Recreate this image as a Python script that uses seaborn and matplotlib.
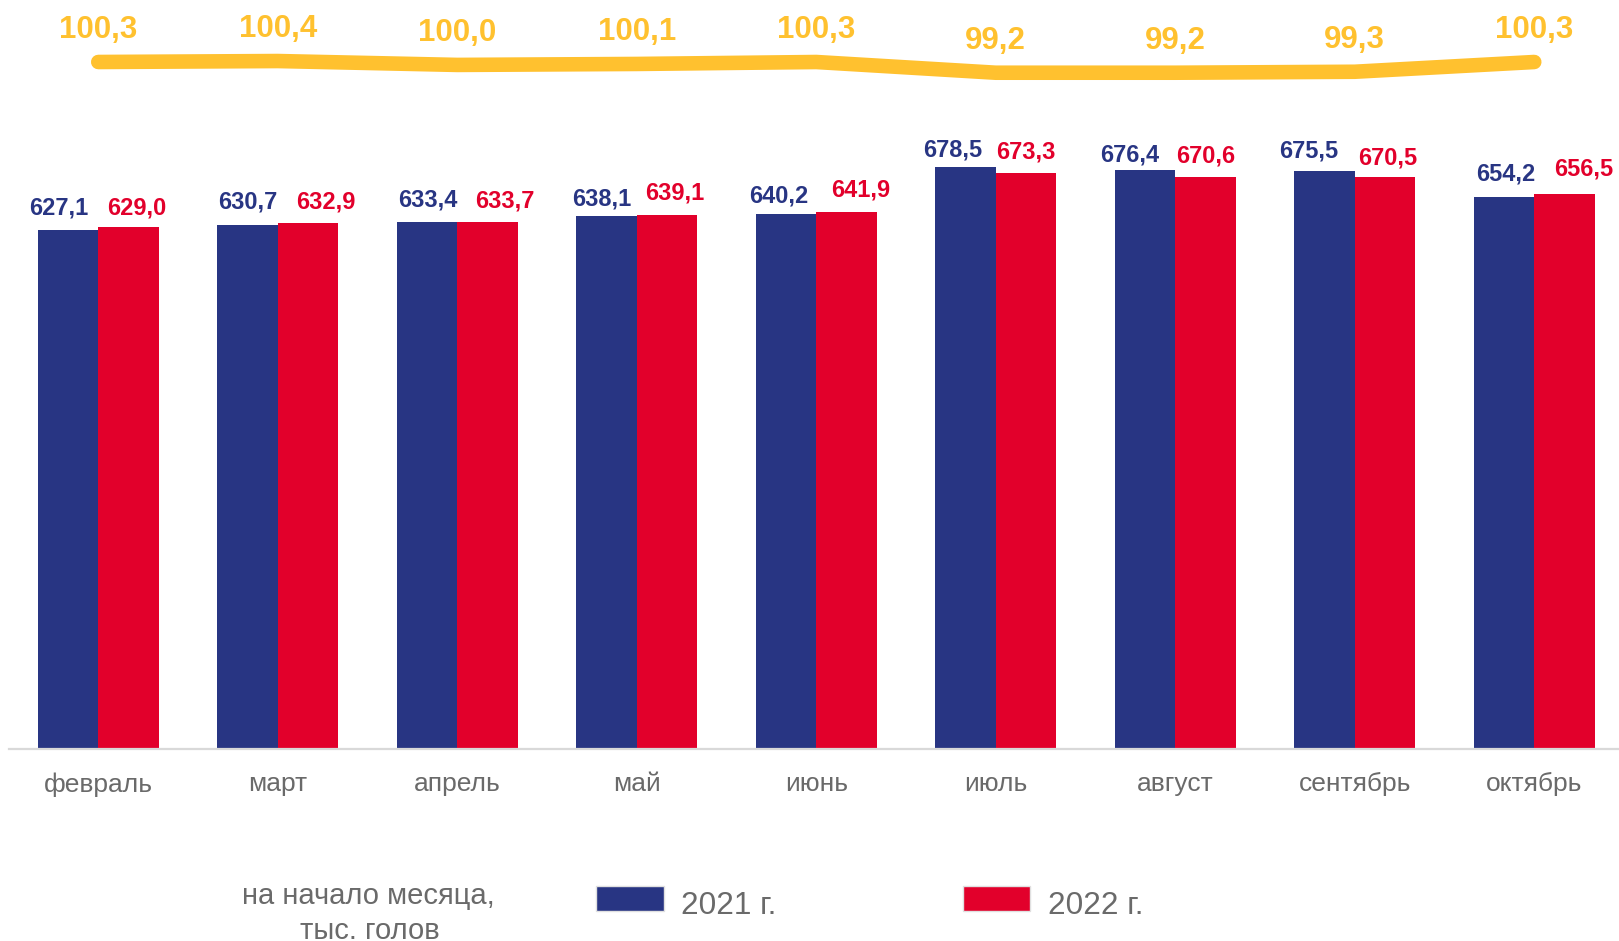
import matplotlib
matplotlib.use("Agg")
import matplotlib.pyplot as plt
from matplotlib.patches import Rectangle
from matplotlib.legend_handler import HandlerPatch
import seaborn as sns
import pandas as pd

months = ["февраль", "март", "апрель", "май", "июнь", "июль", "август", "сентябрь", "октябрь"]
values_2021 = [627.1, 630.7, 633.4, 638.1, 640.2, 678.5, 676.4, 675.5, 654.2]
values_2022 = [629.0, 632.9, 633.7, 639.1, 641.9, 673.3, 670.6, 670.5, 656.5]
index_pct = [100.3, 100.4, 100.0, 100.1, 100.3, 99.2, 99.2, 99.3, 100.3]
series_names = ["2021 г.", "2022 г."]
note_lines = ["на начало месяца,", "тыс. голов"]

# label nudges (pixels) as placed in the original chart
label_dx = [[-9, 0.6, 1, -5, -7.5, -13, -15, -16, 1.4],
            [8.3, 17.7, 17, 8, 14.6, 0, 0, 3, 19.5]]
label_dy = [[23.3, 25, 24.4, 19.6, 20, 19, 16.7, 22, 24.6],
            [21.7, 23, 23, 23.6, 23.4, 23.3, 22.7, 21.3, 26.7]]

BLUE = "#283583"
RED = "#E2002B"
YELLOW = "#FFC12F"
GRAY = "#6a6a6a"
AXIS = "#d9d9d9"

sns.set_theme(style="white")
plt.rcParams["font.family"] = ["Liberation Sans", "DejaVu Sans"]

df = pd.DataFrame({
    "month": months * 2,
    "value": values_2021 + values_2022,
    "year": [series_names[0]] * len(months) + [series_names[1]] * len(months),
})

W, H = 1619, 941
PT = 0.72  # points per pixel at dpi 100
fig = plt.figure(figsize=(W / 100, H / 100), dpi=100)

ax_left = 8.5
ax_width = 9 * 179.5
ax_bottom = H - 749
ax_top_px = 100
ax = fig.add_axes([ax_left / W, ax_bottom / H, ax_width / W, (749 - ax_top_px) / H])

sns.barplot(data=df, x="month", y="value", hue="year", palette=[BLUE, RED],
            width=0.674, gap=0, saturation=1, linewidth=0, ax=ax, legend=True)
ax.set_ylim(200, 200 + (749 - ax_top_px) / 1.216)
ax.set_xlim(-0.5, 8.5)
ax.set_xlabel("")
ax.set_ylabel("")
ax.set_yticks([])
for s in ["top", "left", "right"]:
    ax.spines[s].set_visible(False)
ax.spines["bottom"].set_color(AXIS)
ax.spines["bottom"].set_linewidth(1.6)
ax.tick_params(axis="x", length=0, pad=16.8, labelsize=19, labelcolor=GRAY)

# bar value labels
LBL_FS = 17
cap_half = 0.716 * LBL_FS / PT / 2
for k, (cont, color) in enumerate(zip(ax.containers, [BLUE, RED])):
    for i, bar in enumerate(cont):
        v = bar.get_height()
        ax.annotate(f"{v:.1f}".replace(".", ","),
                    (bar.get_x() + bar.get_width() / 2, v),
                    xytext=(label_dx[k][i] * PT, (label_dy[k][i] - cap_half) * PT),
                    textcoords="offset points",
                    ha="center", va="baseline", fontsize=LBL_FS, fontweight="bold",
                    color=color)

# legend
def raised_patch(legend, orig_handle, xdescent, ydescent, width, height, fontsize):
    return Rectangle((-xdescent, -ydescent + 3.2), width, height)

handles, labels = ax.get_legend_handles_labels()
ax.get_legend().remove()
leg = fig.legend(handles, labels, loc="center left",
                 bbox_to_anchor=(596 / W, 1 - 905.5 / H), ncol=2, frameon=False,
                 fontsize=22.7, handlelength=2.15, handleheight=0.87,
                 handletextpad=0.55, columnspacing=5.9, borderpad=0, borderaxespad=0,
                 handler_map={h: HandlerPatch(patch_func=raised_patch) for h in handles})
for t in leg.get_texts():
    t.set_color(GRAY)
for h in leg.legend_handles:
    h.set_edgecolor("#e0e0e0")
    h.set_linewidth(1)

fig.text(368 / W, 1 - 896 / H, note_lines[0], ha="center", va="center",
         fontsize=21, color=GRAY)
fig.text(370 / W, 1 - 931 / H, note_lines[1], ha="center", va="center",
         fontsize=21, color=GRAY)

# index line axes (top)
ax2 = fig.add_axes([ax_left / W, (H - 120) / H, ax_width / W, 120 / H])
ax2.set_axis_off()
xs = list(range(len(months)))
sns.lineplot(x=xs, y=index_pct, ax=ax2, color=YELLOW, linewidth=10.5,
             solid_capstyle="round", solid_joinstyle="round", legend=False)
ax2.set_xlim(-0.5, 8.5)
ax2.set_ylim(100.3 - 58 / 9.75, 100.3 + 62 / 9.75)
IDX_FS = 22.5
idx_half = 0.716 * IDX_FS / PT / 2
for x, v in zip(xs, index_pct):
    ax2.annotate(f"{v:.1f}".replace(".", ","), (x, v),
                 xytext=(0, (35 - idx_half) * PT),
                 textcoords="offset points", ha="center", va="baseline",
                 fontsize=IDX_FS, fontweight="bold", color=YELLOW)

fig.savefig("out.png", dpi=100)
